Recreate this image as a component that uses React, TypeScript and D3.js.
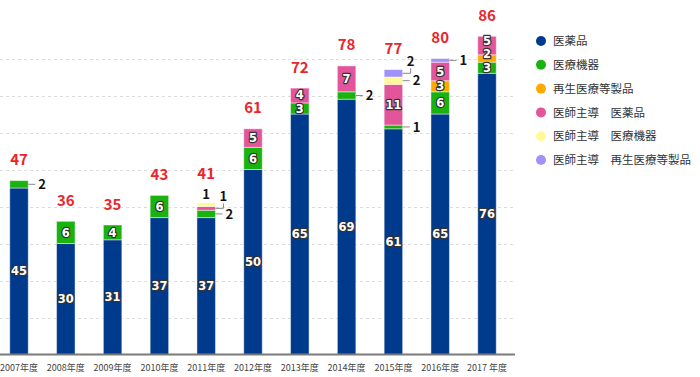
import React from 'react';
import * as d3 from 'd3';

const years = ['2007年度', '2008年度', '2009年度', '2010年度', '2011年度', '2012年度', '2013年度', '2014年度', '2015年度', '2016年度', '2017 年度'];
const drug = [45, 30, 31, 37, 37, 50, 65, 69, 61, 65, 76];
const device = [2, 6, 4, 6, 2, 6, 3, 2, 1, 6, 3];
const regen = [0, 0, 0, 0, 0, 0, 0, 0, 0, 3, 2];
const iiDrug = [0, 0, 0, 0, 1, 5, 4, 7, 11, 5, 5];
const iiDevice = [0, 0, 0, 0, 1, 0, 0, 0, 2, 0, 0];
const iiRegen = [0, 0, 0, 0, 0, 0, 0, 0, 2, 1, 0];

const seriesKeys = ['drug', 'device', 'regen', 'iiDrug', 'iiDevice', 'iiRegen'];
const seriesNames = ['医薬品', '医療機器', '再生医療等製品', '医師主導\u3000医薬品', '医師主導\u3000医療機器', '医師主導\u3000再生医療等製品'];
const seriesColors = ['#003a8c', '#19b20e', '#ffaa00', '#e3559b', '#fff99a', '#a092f6'];
const gridTicks = [10, 20, 30, 40, 50, 60, 70, 80];

// labels placed outside the bar: [yearIndex, seriesKey, kind]
const outsideLabels: [number, string, string][] = [
  [0, 'device', 'right'],
  [4, 'device', 'right'],
  [4, 'iiDrug', 'elbow'],
  [4, 'iiDevice', 'top'],
  [7, 'device', 'right'],
  [8, 'device', 'right'],
  [8, 'iiDevice', 'right'],
  [8, 'iiRegen', 'elbow'],
  [9, 'iiRegen', 'right'],
];

const FONT = "'Noto Sans CJK JP', 'Noto Sans', sans-serif";
const NUMFONT = "'DejaVu Sans', 'Noto Sans', sans-serif";

export default function App() {
  const table = years.map((y, i) => ({
    year: y,
    drug: drug[i], device: device[i], regen: regen[i],
    iiDrug: iiDrug[i], iiDevice: iiDevice[i], iiRegen: iiRegen[i],
  }));
  const stacked = d3.stack<any>().keys(seriesKeys)(table);

  const step = 46.8;
  const x = d3.scaleBand<string>()
    .domain(years)
    .range([-4.4, -4.4 + step * years.length])
    .paddingInner(0.605)
    .paddingOuter(0.3025);
  const y = d3.scaleLinear().domain([0, 80]).range([354.5, 58.5]);
  const bw = x.bandwidth();

  const isOutside = (i: number, key: string) => outsideLabels.find(o => o[0] === i && o[1] === key);

  const totals = table.map((_, i) => seriesKeys.reduce((s, k) => s + (table[i] as any)[k], 0));

  // inside label positions, nudged upward so labels in one bar do not collide
  const insidePos: Record<string, number> = {};
  years.forEach((_, i) => {
    let last = Infinity;
    stacked.forEach(s => {
      const d = s[i];
      const v = d[1] - d[0];
      if (v <= 0 || isOutside(i, s.key as string)) return;
      let mid = (y(d[0]) + y(d[1])) / 2;
      if (last - mid < 13.5) mid = last - 13.5;
      insidePos[i + '_' + s.key] = mid;
      last = mid;
    });
  });

  return (
    <svg width={700} height={377} style={{ position: 'absolute', left: 0, top: 0, fontFamily: FONT }}>
      <rect width={700} height={377} fill="#fff" />
      {gridTicks.map(t => (
        <line key={t} x1={0} x2={515} y1={Math.round(y(t)) + 0.5} y2={Math.round(y(t)) + 0.5}
          stroke="#dcdcdc" strokeDasharray="3,3" strokeWidth={1} />
      ))}
      {stacked.map((s, si) => (
        <g key={s.key}>
          {s.map((d, i) => {
            const v = d[1] - d[0];
            if (v <= 0) return null;
            const x0 = x(years[i])!;
            return (
              <rect key={i} x={x0} y={y(d[1])} width={bw} height={y(d[0]) - y(d[1])}
                fill={seriesColors[si]} stroke="rgba(255,255,255,0.45)" strokeWidth={1} />
            );
          })}
        </g>
      ))}
      {stacked.map((s) => (
        <g key={'lab' + s.key}>
          {s.map((d, i) => {
            const v = d[1] - d[0];
            if (v <= 0) return null;
            const x0 = x(years[i])!;
            const cx = x0 + bw / 2;
            const mid = (y(d[0]) + y(d[1])) / 2;
            const o = isOutside(i, s.key as string);
            if (!o) {
              return (
                <text key={i} x={cx} y={insidePos[i + '_' + s.key]} dy="0.36em" textAnchor="middle" fontSize={11.5} fontWeight="bold"
                  fontFamily={NUMFONT} fill="#fff" stroke="#333" strokeWidth={2.4} strokeLinejoin="round"
                  style={{ paintOrder: 'stroke' }}>{v}</text>
              );
            }
            const xr = x0 + bw;
            if (o[2] === 'right') {
              return (
                <g key={i}>
                  <line x1={xr} x2={xr + 7} y1={mid} y2={mid} stroke="#888" strokeWidth={1} />
                  <text x={xr + 10} y={mid} dy="0.36em" fontSize={13} fontWeight="bold" fill="#111">{v}</text>
                </g>
              );
            }
            if (o[2] === 'elbow') {
              return (
                <g key={i}>
                  <polyline points={`${xr},${mid} ${xr + 8},${mid} ${xr + 8},${mid - 5}`} fill="none" stroke="#888" strokeWidth={1} />
                  <text x={xr + 8} y={mid - 7} textAnchor="middle" fontSize={13} fontWeight="bold" fill="#111">{v}</text>
                </g>
              );
            }
            return (
              <text key={i} x={cx} y={y(d[1]) - 4} textAnchor="middle" fontSize={13} fontWeight="bold" fill="#111">{v}</text>
            );
          })}
        </g>
      ))}
      {totals.map((t, i) => {
        const hasTop = outsideLabels.some(o => o[0] === i && o[2] === 'top');
        return (
          <text key={'t' + i} x={x(years[i])! + bw / 2} y={y(t) - 15.5 - (hasTop ? 8 : 0)} textAnchor="middle"
            fontSize={15} fontWeight="bold" fill="#e9262b">{t}</text>
        );
      })}
      <line x1={0} x2={515} y1={354.5} y2={354.5} stroke="#7a7a7a" strokeWidth={2} />
      {years.map((yr, i) => (
        <text key={'x' + i} x={x(yr)! + bw / 2} y={371} textAnchor="middle" fontSize={9} fill="#444"
          style={{ whiteSpace: 'pre' }}>{yr}</text>
      ))}
      {seriesNames.map((n, i) => (
        <g key={'lg' + i} transform={`translate(541, ${41 + i * 23.8})`}>
          <circle r={5} fill={seriesColors[i]} />
          <text x={12} dy="0.36em" fontSize={11.5} fill="#333" style={{ whiteSpace: 'pre' }}>{n}</text>
        </g>
      ))}
    </svg>
  );
}
